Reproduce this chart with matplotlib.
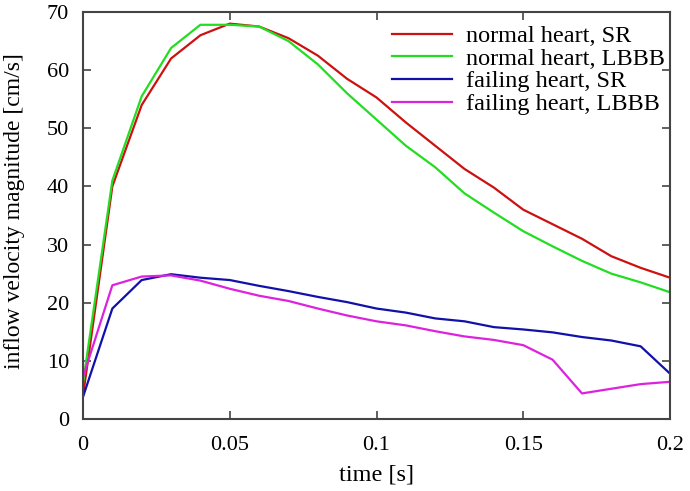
import matplotlib
matplotlib.use("Agg")
import matplotlib.pyplot as plt
import numpy as np

t = [0.00, 0.01, 0.02, 0.03, 0.04, 0.05, 0.06, 0.07, 0.08, 0.09, 0.10,
     0.11, 0.12, 0.13, 0.14, 0.15, 0.16, 0.17, 0.18, 0.19, 0.20]
normal_sr = [4.0, 40.0, 54.0, 62.0, 66.0, 68.0, 67.5, 65.5, 62.5, 58.5, 55.3,
             51.0, 47.0, 43.0, 39.8, 36.0, 33.5, 31.0, 28.0, 26.0, 24.3]
normal_lbbb = [6.2, 41.0, 55.5, 63.8, 67.8, 67.8, 67.5, 65.0, 61.0, 56.0, 51.5,
               47.0, 43.3, 38.8, 35.5, 32.3, 29.7, 27.2, 25.0, 23.5, 21.8]
failing_sr = [3.8, 19.0, 23.9, 24.9, 24.3, 23.9, 22.9, 22.0, 21.0, 20.1, 19.0,
              18.3, 17.3, 16.8, 15.8, 15.4, 14.9, 14.1, 13.5, 12.5, 7.8]
failing_lbbb = [7.2, 23.0, 24.5, 24.7, 23.8, 22.4, 21.2, 20.3, 19.0, 17.8, 16.8,
                16.1, 15.1, 14.2, 13.6, 12.7, 10.2, 4.4, 5.2, 6.0, 6.4]

labels = ["normal heart, SR", "normal heart, LBBB", "failing heart, SR", "failing heart, LBBB"]
colors = ["#cc1111", "#22dd22", "#1111aa", "#dd22dd"]
xticks = [0, 0.05, 0.1, 0.15, 0.2]
xtick_labels = ["0", "0.05", "0.1", "0.15", "0.2"]
yticks = [0, 10, 20, 30, 40, 50, 60, 70]

plt.rcParams['font.family'] = ['Liberation Serif', 'DejaVu Serif']

fig = plt.figure(figsize=(6.9, 4.91), dpi=100)
ax = fig.add_axes([83/690, 72/491, 587/690, 407/491])

for y, lab, c in zip([normal_sr, normal_lbbb, failing_sr, failing_lbbb], labels, colors):
    ax.plot(t, y, color=c, lw=1.6, label=lab)

ax.set_xlim(0, 0.2)
ax.set_ylim(0, 70)
ax.set_xticks(xticks)
ax.set_xticklabels(xtick_labels)
ax.set_yticks(yticks)
ax.tick_params(direction='in', top=True, right=True, length=6, width=1.2,
               labelsize=16, color='#444444')
ax.tick_params(axis='x', pad=12)
ax.tick_params(axis='y', pad=10)
for s in ax.spines.values():
    s.set_color('#444444')
    s.set_linewidth(1.5)

ax.set_xlabel("time [s]", fontsize=17.5, labelpad=7)
ax.set_ylabel("inflow velocity magnitude [cm/s]", fontsize=17)
ax.yaxis.set_label_coords(-0.098, 0.512)

leg = ax.legend(loc='upper right', bbox_to_anchor=(665/690, 1 - 25/491),
                bbox_transform=fig.transFigure, frameon=False, fontsize=17.5,
                handlelength=2.47, labelspacing=0.03, handletextpad=0.58,
                borderaxespad=0.0, borderpad=0.0)

fig.savefig("out.png", dpi=100)
